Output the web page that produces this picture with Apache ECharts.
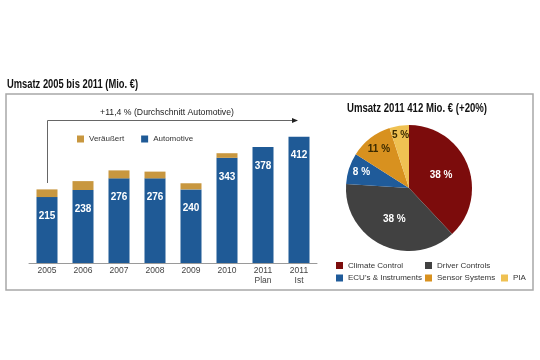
<!DOCTYPE html>
<html><head><meta charset="utf-8">
<script src="https://cdn.jsdelivr.net/npm/echarts@6/dist/echarts.min.js"></script>
<style>html,body{margin:0;padding:0;background:#fff}#c{width:540px;height:360px}</style>
</head><body><div id="c"></div>
<script>
const years = ['2005','2006','2007','2008','2009','2010','2011\nPlan','2011\nIst'];
const automotive = [215,238,276,276,240,343,378,412];
const veraeussert = [25,29,26,22,20,15,0,0];
const pieNames = ['Climate Control','Driver Controls',"ECU's & Instruments",'Sensor Systems','PIA'];
const pieValues = [38,38,8,11,5];
const pieColors = ['#7c0c0c','#414141','#1f5b9a','#d8911f','#efc152'];
const barTitle = 'Umsatz 2005 bis 2011 (Mio. €)';
const pieTitle = 'Umsatz 2011 412 Mio. € (+20%)';
const growthNote = '+11,4 % (Durchschnitt Automotive)';

const SANS = "'Liberation Sans',Arial,sans-serif";
const PIE_C = [409,188];
const labelRadial = [1.0,1.0,1.45,1.42,1.55];
const chart = echarts.init(document.getElementById('c'), null, {renderer:'canvas'});
const legendText = {fontFamily:SANS,fontSize:8,color:'#333'};
const pieLegend = (left, top, data) => ({
  left, top, orient:'vertical', itemWidth:7, itemHeight:7, itemGap:4.5,
  icon:'rect', itemStyle:{borderWidth:0}, textStyle:legendText, padding:0, data, selectedMode:false
});
chart.setOption({
  animation:false,
  textStyle:{fontFamily:SANS},
  legend:[
    {left:77,top:135,itemWidth:7,itemHeight:7,itemGap:17,icon:'rect',padding:0,textStyle:legendText,data:['Veräußert','Automotive'],selectedMode:false},
    pieLegend(336,261.5,[pieNames[0],pieNames[2]]),
    pieLegend(425,261.5,[pieNames[1],pieNames[3]]),
    pieLegend(501,274,[pieNames[4]])
  ],
  grid:{left:29,right:223,top:125,bottom:97},
  xAxis:{type:'category',data:years,
    axisLine:{lineStyle:{color:'#9a9a9a'}},axisTick:{show:false},
    axisLabel:{fontSize:8.5,color:'#444',lineHeight:10,margin:3,fontFamily:SANS}},
  yAxis:{type:'value',min:0,max:450,show:false},
  series:[
    {name:'Automotive',type:'bar',stack:'s',data:automotive,barWidth:21,
      itemStyle:{color:'#1f5a96'},
      label:{show:true,position:'insideTop',distance:14,color:'#fff',fontWeight:'bold',fontSize:10,fontFamily:SANS}},
    {name:'Veräußert',type:'bar',stack:'s',data:veraeussert,barWidth:21,itemStyle:{color:'#c8973f'}},
    {type:'pie',radius:63,center:PIE_C,startAngle:90,clockwise:true,
      label:{position:'inside',formatter:'{c} %',fontWeight:'bold',fontSize:10,fontFamily:SANS,color:'#fff'},
      labelLine:{show:false},
      labelLayout:function(p){
        const r = p.labelRect, f = labelRadial[p.dataIndex];
        const cx = r.x + r.width/2, cy = r.y + r.height/2;
        return {dx:(cx-PIE_C[0])*(f-1), dy:(cy-PIE_C[1])*(f-1), hideOverlap:false};
      },
      itemStyle:{borderWidth:0},
      emphasis:{disabled:true},
      data:pieNames.map((n,i)=>({name:n,value:pieValues[i],itemStyle:{color:pieColors[i]},
        label:{color:i>=3?'#3a2a00':'#fff'}}))}
  ],
  graphic:[
    {type:'rect',shape:{x:6,y:94,width:527,height:196},style:{fill:'none',stroke:'#a8a8a8',lineWidth:1.5},silent:true},
    {type:'text',x:7,y:85,scaleX:0.78,style:{text:barTitle,fill:'#111',font:'bold 12px '+SANS,textAlign:'left',textVerticalAlign:'middle'},silent:true},
    {type:'text',x:417,y:109,scaleX:0.8,style:{text:pieTitle,fill:'#111',font:'bold 12px '+SANS,textAlign:'center',textVerticalAlign:'middle'},silent:true},
    {type:'polyline',shape:{points:[[47.5,183],[47.5,120.5],[292,120.5]]},style:{stroke:'#666',lineWidth:1,fill:'none'},silent:true},
    {type:'polygon',shape:{points:[[292,118],[298,120.5],[292,123]]},style:{fill:'#222'},silent:true},
    {type:'text',x:167,y:113,style:{text:growthNote,fill:'#222',font:'8.7px '+SANS,textAlign:'center',textVerticalAlign:'middle'},silent:true}
  ]
});
</script></body></html>
